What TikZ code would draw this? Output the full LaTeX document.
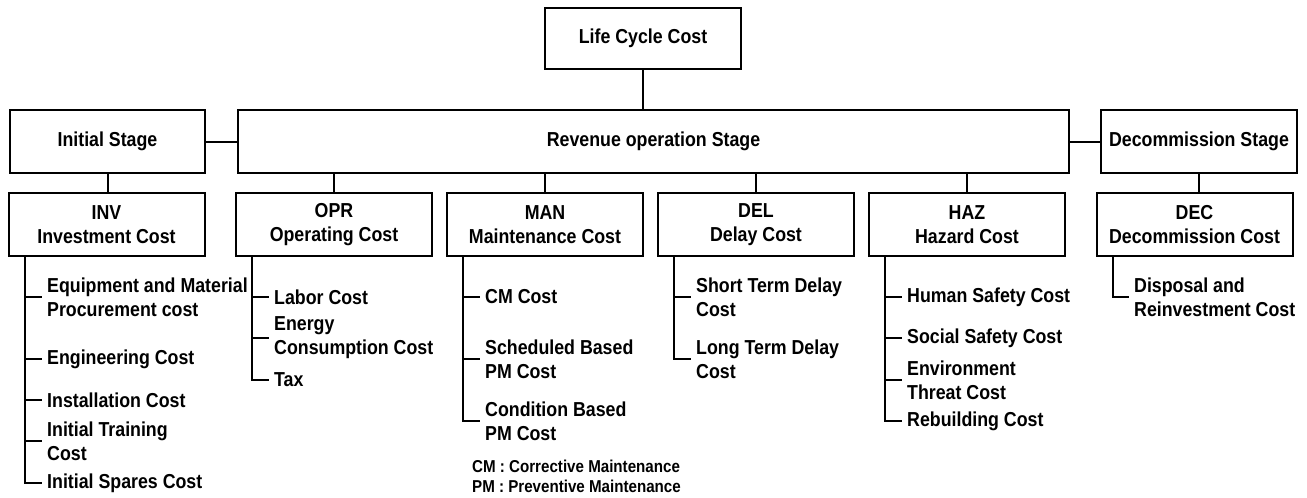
\documentclass[tikz,border=0pt]{standalone}
\usepackage{fontspec}
\setmainfont{Liberation Sans}[FakeStretch=0.88]
\begin{document}
\begin{tikzpicture}[x=1pt,y=-1pt,
  box/.style={draw,line width=2pt,minimum height=63pt,minimum width=196pt,inner sep=0pt,align=center,font=\bfseries\fontsize{20.2}{24}\selectfont},
  leaf/.style={anchor=west,inner sep=0pt,align=left,font=\bfseries\fontsize{20.2}{24}\selectfont},
  note/.style={anchor=west,inner sep=0pt,align=left,font=\bfseries\fontsize{17.2}{20}\selectfont},
  con/.style={line width=2pt}]
\useasboundingbox (0,0) rectangle (1307,498);
% level 1
\node[box,minimum height=61pt] (lcc) at (643,38.5) {Life Cycle Cost};
% level 2
\node[box,minimum width=195pt] (init) at (107.5,141.5) {Initial Stage};
\node[box,minimum width=831pt] (rev) at (653.5,141.5) {Revenue operation Stage};
\node[box] (dec) at (1199,141.5) {Decommission Stage};
% level 3
\node[box] (inv) at (106.5,224.5) {INV\\Investment Cost};
\node[box] (opr) at (334,224.5) {OPR\\Operating Cost};
\node[box] (man) at (545,224.5) {MAN\\Maintenance Cost};
\node[box] (del) at (756,224.5) {DEL\\Delay Cost};
\node[box] (haz) at (967,224.5) {HAZ\\Hazard Cost};
\node[box] (dcc) at (1194.5,224.5) {DEC\\Decommission Cost};
% connectors upper
\draw[con] (lcc.south) -- (lcc.south |- rev.north);
\draw[con] (init.east) -- (rev.west);
\draw[con] (rev.east) -- (dec.west);
\draw[con] (init.south) -- (init.south |- inv.north);
\draw[con] (opr.north |- rev.south) -- (opr.north);
\draw[con] (man.north |- rev.south) -- (man.north);
\draw[con] (del.north |- rev.south) -- (del.north);
\draw[con] (haz.north |- rev.south) -- (haz.north);
\draw[con] (dec.south) -- (dec.south |- dcc.north);
% leaves INV
\node[leaf] (i1) at (47,297) {Equipment and Material\\Procurement cost};
\node[leaf] (i2) at (47,359) {Engineering Cost};
\node[leaf] (i3) at (47,400) {Installation Cost};
\node[leaf] (i4) at (47,441) {Initial Training\\Cost};
\node[leaf] (i5) at (47,483) {Initial Spares Cost};
% leaves OPR
\node[leaf] (o1) at (274,297) {Labor Cost};
\node[leaf] (o2) at (274,338) {Energy\\Consumption Cost};
\node[leaf] (o3) at (274,380) {Tax};
% leaves MAN
\node[leaf] (m1) at (485,297) {CM Cost};
\node[leaf] (m2) at (485,359) {Scheduled Based\\PM Cost};
\node[leaf] (m3) at (485,421) {Condition Based\\PM Cost};
\node[note] (nt) at (472,476) {CM : Corrective Maintenance\\PM : Preventive Maintenance};
% leaves DEL
\node[leaf] (d1) at (696,297) {Short Term Delay\\Cost};
\node[leaf] (d2) at (696,359) {Long Term Delay\\Cost};
% leaves HAZ
\node[leaf] (h1) at (907,297) {Human Safety Cost};
\node[leaf] (h2) at (907,338) {Social Safety Cost};
\node[leaf] (h3) at (907,380) {Environment\\Threat Cost};
\node[leaf] (h4) at (907,421) {Rebuilding Cost};
% leaves DEC
\node[leaf] (e1) at (1134,297) {Disposal and\\Reinvestment Cost};
% trunks and ticks
\foreach \pp/\lst/\items in {inv/i5/{i1,i2,i3,i4},opr/o3/{o1,o2},man/m3/{m1,m2},del/d2/{d1},haz/h4/{h1,h2,h3}}{
  \coordinate (t-\pp) at ([xshift=17pt]\pp.south west);
  \draw[con] (t-\pp) |- ([xshift=-5pt]\lst.west);
  \foreach \lf in \items {\draw[con] (t-\pp |- \lf.west) -- ([xshift=-5pt]\lf.west);}
}
\coordinate (t-dcc) at ([xshift=17pt]dcc.south west);
\draw[con] (t-dcc) |- ([xshift=-5pt]e1.west);
\end{tikzpicture}
\end{document}
